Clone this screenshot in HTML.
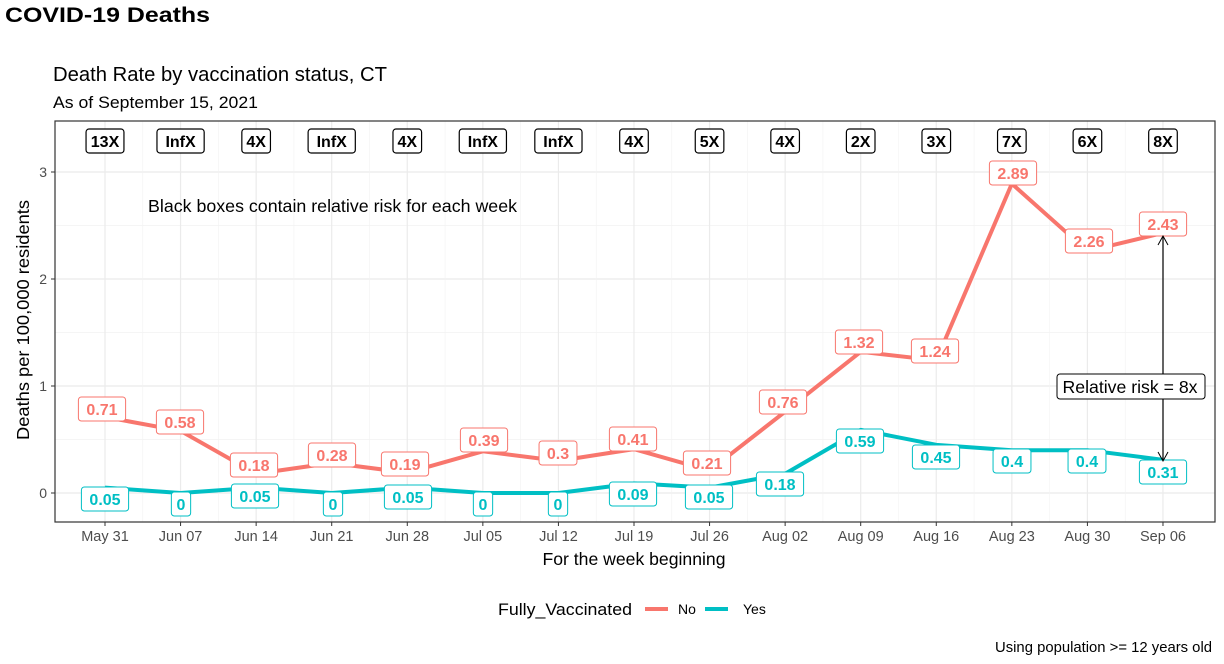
<!DOCTYPE html>
<html><head><meta charset="utf-8"><style>
body{margin:0;background:#fff;width:1224px;height:659px;overflow:hidden;font-family:"Liberation Sans",Arial,sans-serif}
</style></head><body>
<svg id="s" width="1224" height="659" xmlns="http://www.w3.org/2000/svg" font-family="Liberation Sans, Arial, sans-serif">
<g id="g"></g>
<text x="5" y="22" font-size="21" font-weight="bold" fill="#000" textLength="205" lengthAdjust="spacingAndGlyphs">COVID-19 Deaths</text>
<text x="53" y="81" font-size="20" fill="#000" textLength="334" lengthAdjust="spacingAndGlyphs">Death Rate by vaccination status, CT</text>
<text x="53" y="108" font-size="17" fill="#000" textLength="205" lengthAdjust="spacingAndGlyphs">As of September 15, 2021</text>
<text x="148" y="212" font-size="17.5" fill="#000" textLength="369" lengthAdjust="spacingAndGlyphs">Black boxes contain relative risk for each week</text>
<text transform="translate(29,320) rotate(-90)" text-anchor="middle" font-size="17.5" fill="#000" textLength="240" lengthAdjust="spacingAndGlyphs">Deaths per 100,000 residents</text>
<text x="634" y="565" text-anchor="middle" font-size="17.5" fill="#000" textLength="183" lengthAdjust="spacingAndGlyphs">For the week beginning</text>
<text x="498" y="615" font-size="17" fill="#000" textLength="134" lengthAdjust="spacingAndGlyphs">Fully_Vaccinated</text>
<line x1="645" y1="609" x2="668" y2="609" stroke="#F8766D" stroke-width="4"/>
<text x="678" y="614" font-size="14" fill="#000">No</text>
<line x1="705" y1="609" x2="728" y2="609" stroke="#00BFC4" stroke-width="4"/>
<text x="743" y="614" font-size="14" fill="#000">Yes</text>
<text x="1212" y="652" text-anchor="end" font-size="14.5" fill="#000" textLength="217" lengthAdjust="spacingAndGlyphs">Using population &gt;= 12 years old</text>
<g id="g2"></g>
</svg>
<script>
var h='',h2='';
var L=55,R=1215,T=121,B=522,x0=105,dx=75.57,y0=493,k=107;
function X(i){return x0+dx*i}function Y(v){return y0-k*v}
for(var v=-0.5;v<=3.5;v+=0.5){var y=Y(v);if(y>T&&y<B)h+='<line x1="'+L+'" x2="'+R+'" y1="'+y+'" y2="'+y+'" stroke="#ebebeb" stroke-width="'+(v%1==0?1.2:0.6)+'"/>';}
for(var i=0;i<15;i++){h+='<line x1="'+X(i)+'" x2="'+X(i)+'" y1="'+T+'" y2="'+B+'" stroke="#ebebeb" stroke-width="1.2"/>';}
for(var i=0;i<14;i++){var xx=X(i)+dx/2;h+='<line x1="'+xx+'" x2="'+xx+'" y1="'+T+'" y2="'+B+'" stroke="#f2f2f2" stroke-width="0.6"/>';}
h+='<rect x="'+L+'" y="'+T+'" width="'+(R-L)+'" height="'+(B-T)+'" fill="none" stroke="#333" stroke-width="1.2"/>';
var dates=["May 31","Jun 07","Jun 14","Jun 21","Jun 28","Jul 05","Jul 12","Jul 19","Jul 26","Aug 02","Aug 09","Aug 16","Aug 23","Aug 30","Sep 06"];
for(var i=0;i<15;i++){h+='<line x1="'+X(i)+'" x2="'+X(i)+'" y1="'+B+'" y2="'+(B+4)+'" stroke="#333"/><text x="'+X(i)+'" y="'+(B+19)+'" text-anchor="middle" font-size="14.5" fill="#4d4d4d">'+dates[i]+'</text>';}
for(var v=0;v<=3;v++){h+='<line x1="'+(L-4)+'" x2="'+L+'" y1="'+Y(v)+'" y2="'+Y(v)+'" stroke="#333"/><text x="'+(L-8)+'" y="'+(Y(v)+5)+'" text-anchor="end" font-size="14" fill="#4d4d4d">'+v+'</text>';}
var red=[.71,.58,.18,.28,.19,.39,.3,.41,.21,.76,1.32,1.24,2.89,2.26,2.43];
var teal=[.05,0,.05,0,.05,0,0,.09,.05,.18,.59,.45,.4,.4,.31];
function line(d,c){var p=d.map(function(v,i){return X(i)+','+Y(v)}).join(' ');h2+='<polyline points="'+p+'" fill="none" stroke="'+c+'" stroke-width="4" stroke-linejoin="round"/>';}
line(red,'#F8766D');line(teal,'#00BFC4');
var rl=[[102,409],[180,422],[254,465],[332,455],[405,464],[484,440],[558,453],[633,439],[707,463],[783,402],[859,342],[935,351],[1013,173],[1089,241],[1163,224]];
var tl=[[105,499],[181,504],[255,496],[333,504],[408,497],[483,504],[558,504],[633,494],[709,497],[780,484],[860,441],[936,457],[1012,461],[1087,461],[1163,472]];
function lab(x,y,t,c,fc,bw){var w=t.length*9.3+10;h2+='<rect x="'+(x-w/2)+'" y="'+(y-12)+'" width="'+w+'" height="24" rx="3" fill="#fff" stroke="'+c+'" stroke-width="'+bw+'"/><text x="'+x+'" y="'+(y+6)+'" text-anchor="middle" font-size="16" font-weight="bold" fill="'+fc+'">'+t+'</text>';}
red.forEach(function(v,i){lab(rl[i][0],rl[i][1],String(v),'#F8766D','#F8766D',1);});
teal.forEach(function(v,i){lab(tl[i][0],tl[i][1],String(v),'#00BFC4','#00BFC4',1);});
var rr=["13X","InfX","4X","InfX","4X","InfX","InfX","4X","5X","4X","2X","3X","7X","6X","8X"];
rr.forEach(function(t,i){lab(X(i),141,t,'#000','#000',1.2);});
h2+='<line x1="1163" y1="237" x2="1163" y2="460" stroke="#000" stroke-width="1.2"/>';
h2+='<polyline points="1158,245 1163,236 1168,245" fill="none" stroke="#000"/><polyline points="1158,452 1163,461 1168,452" fill="none" stroke="#000"/>';
h2+='<rect x="1057" y="374" width="148" height="25" rx="3" fill="#fff" stroke="#000"/><text x="1130" y="393" text-anchor="middle" font-size="17.5" fill="#000" textLength="135" lengthAdjust="spacingAndGlyphs">Relative risk = 8x</text>';
document.getElementById('g').innerHTML=h;
document.getElementById('g2').innerHTML=h2;
</script>
</body></html>
